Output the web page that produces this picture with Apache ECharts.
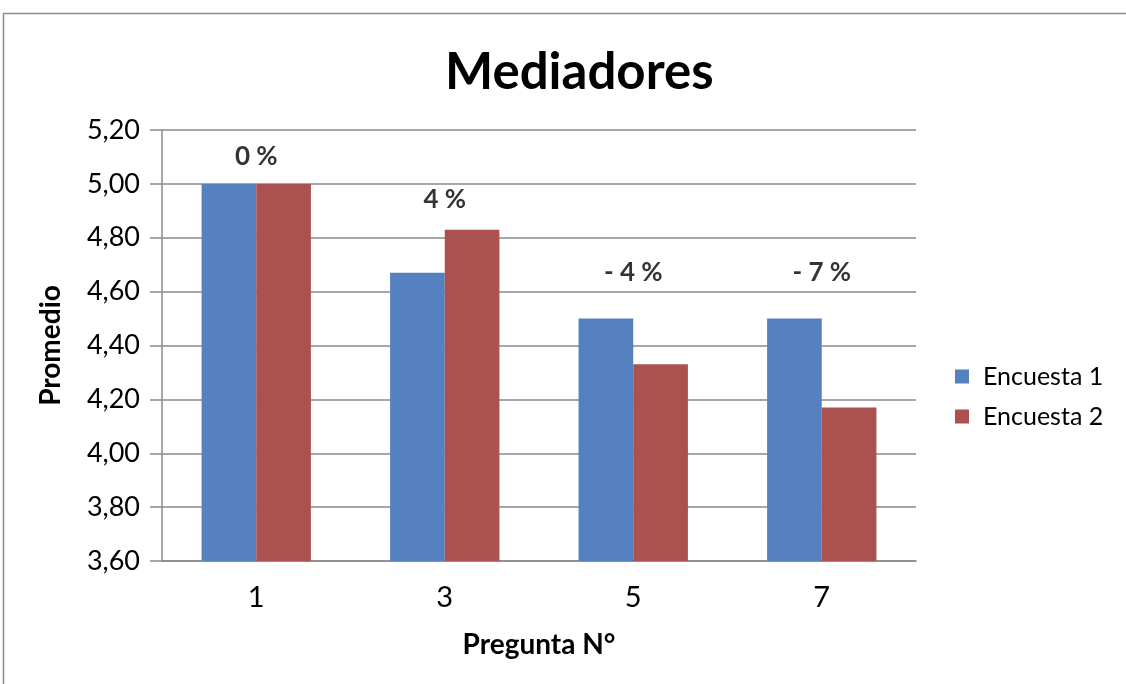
<!DOCTYPE html>
<html>
<head>
<meta charset="utf-8">
<script src="https://cdn.jsdelivr.net/npm/echarts@6/dist/echarts.min.js"></script>
<style>
  html, body { margin: 0; padding: 0; background: #ffffff; }
  #chart { width: 1126px; height: 684px; }
</style>
</head>
<body>
<div id="chart"></div>
<script>
// ---- data ----
const categories = ['1', '3', '5', '7'];
const encuesta1 = [5.00, 4.67, 4.50, 4.50];
const encuesta2 = [5.00, 4.83, 4.33, 4.17];
const pctLabels = ['0 %', '4 %', '- 4 %', '- 7 %'];
const pctLabelY = [5.10, 4.94, 4.67, 4.67];
const yTicks = { min: 3.6, max: 5.2, interval: 0.2 };
const seriesNames = ['Encuesta 1', 'Encuesta 2'];

const FONT = 'Lato, "Open Sans", sans-serif';
const chart = echarts.init(document.getElementById('chart'), null, { renderer: 'canvas' });

chart.setOption({
  backgroundColor: '#ffffff',
  animation: false,
  graphic: [{
    type: 'rect',
    shape: { x: 3.5, y: 13.5, width: 1300, height: 900 },
    style: { fill: 'none', stroke: '#8c8c8c', lineWidth: 1.5 },
    silent: true, z: -1
  }],
  title: {
    text: 'Mediadores',
    left: 440,
    top: 42,
    textStyle: { fontFamily: FONT, fontSize: 51, fontWeight: 'bold', color: '#000' }
  },
  legend: {
    data: seriesNames,
    orient: 'vertical',
    left: 950,
    top: 359,
    icon: 'rect',
    itemWidth: 14,
    itemHeight: 14,
    itemGap: 15,
    textStyle: { fontFamily: FONT, fontSize: 25, color: '#000', lineHeight: 25, padding: [0, 0, 0, 9] }
  },
  grid: { left: 162, right: 210, top: 130, bottom: 123, containLabel: false },
  xAxis: {
    type: 'category',
    data: categories,
    name: 'Pregunta N°',
    nameLocation: 'middle',
    nameGap: 70,
    nameTextStyle: { fontFamily: FONT, fontSize: 28, fontWeight: 'bold', color: '#000' },
    axisLine: { lineStyle: { color: '#8a8a8a', width: 1.5 } },
    axisTick: { show: false },
    axisLabel: { fontFamily: FONT, fontSize: 29, color: '#000', margin: 22 }
  },
  yAxis: {
    type: 'value',
    min: yTicks.min,
    max: yTicks.max,
    interval: yTicks.interval,
    name: 'Promedio',
    nameLocation: 'middle',
    nameGap: 97,
    nameTextStyle: { fontFamily: FONT, fontSize: 28, fontWeight: 'bold', color: '#000' },
    axisLine: { show: true, lineStyle: { color: '#8a8a8a', width: 1.5 } },
    axisTick: { show: true, length: 12, lineStyle: { color: '#8a8a8a', width: 1.5 } },
    axisLabel: {
      fontFamily: FONT, fontSize: 27, color: '#000', margin: 22,
      formatter: v => v.toFixed(2).replace('.', ',')
    },
    splitLine: { lineStyle: { color: '#8a8a8a', width: 1.5 } }
  },
  series: [
    {
      name: seriesNames[0], type: 'bar', data: encuesta1,
      barGap: '0%', barCategoryGap: '42%',
      itemStyle: { color: '#5581C0' }
    },
    {
      name: seriesNames[1], type: 'bar', data: encuesta2,
      itemStyle: { color: '#AB5250' }
    },
    {
      name: 'pct', type: 'scatter', data: pctLabelY,
      symbolSize: 0, silent: true, z: 10,
      label: {
        show: true, position: 'inside',
        fontFamily: FONT, fontSize: 26, fontWeight: 'bold', color: '#000',
        formatter: p => pctLabels[p.dataIndex]
      }
    }
  ]
});
</script>
</body>
</html>
